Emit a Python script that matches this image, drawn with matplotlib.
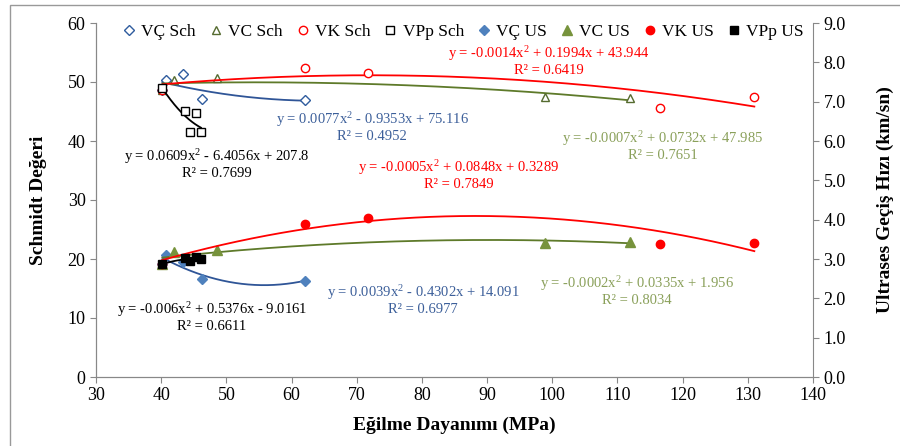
import matplotlib
matplotlib.use('Agg')
import matplotlib.pyplot as plt
import numpy as np
from matplotlib.patches import Rectangle

# Eğilme dayanımı (MPa) ve ölçülen değerler
x_vc_sch = [40.2, 40.7, 43.4, 46.3, 62.0]
y_vc_sch = [48.7, 50.3, 51.3, 47.2, 46.9]
x_vcc_sch = [40.2, 41.9, 48.5, 98.9, 111.9]
y_vcc_sch = [48.7, 50.3, 50.7, 47.5, 47.3]
x_vk_sch = [40.2, 62.0, 71.8, 116.5, 131.0]
y_vk_sch = [48.7, 52.4, 51.5, 45.6, 47.5]
x_vpp_sch = [40.2, 43.6, 44.4, 45.3, 46.1]
y_vpp_sch = [48.9, 45.1, 41.5, 44.7, 41.6]

y_vc_us = [2.87, 3.10, 2.92, 2.49, 2.45]
y_vcc_us = [2.87, 3.19, 3.23, 3.41, 3.44]
y_vk_us = [2.87, 3.89, 4.05, 3.38, 3.41]
y_vpp_us = [2.87, 3.02, 2.95, 3.04, 3.00]

labels = ['VÇ Sch', 'VC Sch', 'VK Sch', 'VPp Sch', 'VÇ US', 'VC US', 'VK US', 'VPp US']

eq_sch = [r'y = 0.0077x$^{2}$ - 0.9353x + 75.116' + '\nR² = 0.4952',
          r'y = -0.0007x$^{2}$ + 0.0732x + 47.985' + '\nR² = 0.7651',
          r'y = -0.0014x$^{2}$ + 0.1994x + 43.944' + '\nR² = 0.6419',
          r'y = 0.0609x$^{2}$ - 6.4056x + 207.8' + '\nR² = 0.7699']
eq_us = [r'y = 0.0039x$^{2}$ - 0.4302x + 14.091' + '\nR² = 0.6977',
         r'y = -0.0002x$^{2}$ + 0.0335x + 1.956' + '\nR² = 0.8034',
         r'y = -0.0005x$^{2}$ + 0.0848x + 0.3289' + '\nR² = 0.7849',
         r'y = -0.006x$^{2}$ + 0.5376x - 9.0161' + '\nR² = 0.6611']

plt.rcParams['font.family'] = 'Liberation Serif'
plt.rcParams['mathtext.fontset'] = 'custom'
plt.rcParams['mathtext.rm'] = 'Liberation Serif'
plt.rcParams['mathtext.it'] = 'Liberation Serif:italic'

fig = plt.figure(figsize=(9, 4.46), dpi=100)
ax = fig.add_axes([96/900, 1-377/446, 717/900, 354/446])
ax2 = ax.twinx()

def trend(a, x, y, color):
    x = np.array(x)
    c = np.polyfit(x, y, 2)
    xs = np.linspace(x.min(), x.max(), 200)
    a.plot(xs, np.polyval(c, xs), '-', color=color, lw=1.3)

blue_line = '#2F5597'
green_line = '#5E7A2A'
xs_all = [x_vc_sch, x_vcc_sch, x_vk_sch, x_vpp_sch]
ys_sch = [y_vc_sch, y_vcc_sch, y_vk_sch, y_vpp_sch]
ys_us = [y_vc_us, y_vcc_us, y_vk_us, y_vpp_us]
line_cols = [blue_line, green_line, '#FF0000', 'black']
mk = ['D', '^', 'o', 's']
edge_cols = ['#2F5C9E', '#556B2F', '#FF0000', 'black']
fill_cols = ['#4F81BD', '#77933C', '#FF0000', 'black']
ms_open = [5, 5.5, 6, 6]
ms_fill = [5, 7, 6, 6]
eq_cols = ['#3C5F9A', '#8AA05A', '#FF0000', 'black']

handles = []
for i in range(4):
    trend(ax, xs_all[i], ys_sch[i], line_cols[i])
    h, = ax.plot(xs_all[i], ys_sch[i], ls='none', marker=mk[i], ms=ms_open[i],
                 mfc='white', mec=edge_cols[i], mew=1.0, label=labels[i])
    handles.append(h)
for i in range(4):
    trend(ax2, xs_all[i], ys_us[i], line_cols[i])
    h, = ax2.plot(xs_all[i], ys_us[i], ls='none', marker=mk[i], ms=ms_fill[i],
                  mfc=fill_cols[i], mec=fill_cols[i], label=labels[4+i])
    handles.append(h)

# denklem etiketleri (sol eksen koordinatlarında)
pos_sch = [(72.4, 42.5), (117.0, 39.3), (99.5, 53.6), (48.5, 36.1)]
pos_us = [(80.2, 13.2), (113.0, 14.7), (85.7, 34.3), (47.8, 10.2)]
for i in range(4):
    ax.text(pos_sch[i][0], pos_sch[i][1], eq_sch[i], color=eq_cols[i], fontsize=10.5,
            ha='center', va='center', multialignment='center', linespacing=1.1, zorder=5)
    ax.text(pos_us[i][0], pos_us[i][1], eq_us[i], color=eq_cols[i], fontsize=10.5,
            ha='center', va='center', multialignment='center', linespacing=1.1, zorder=5)

ax.set_xlim(30, 140)
ax.set_ylim(0, 60)
ax2.set_ylim(0, 9)
ax.set_xticks(range(30, 141, 10))
ax.set_yticks(range(0, 61, 10))
ax2.set_yticks(np.arange(0, 9.1, 1))
ax2.set_yticklabels(['%.1f' % v for v in np.arange(0, 9.1, 1)])

for a in (ax, ax2):
    a.spines['top'].set_visible(False)
    for s in ('left', 'right', 'bottom'):
        a.spines[s].set_color('#888888')
    a.tick_params(colors='#888888', labelcolor='black', labelsize=13, length=4, direction='out')
ax.spines['right'].set_visible(False)

ax.set_xlabel('Eğilme Dayanımı (MPa)', fontsize=14, fontweight='bold', labelpad=9)
ax.set_ylabel('Schmidt Değeri', fontsize=14, fontweight='bold', labelpad=15)
ax2.set_ylabel('Ultrases Geçiş Hızı (km/sn)', fontsize=14, fontweight='bold', labelpad=22)

leg = ax2.legend(handles=handles, ncol=8, loc='center', bbox_to_anchor=(0.513, 0.975),
                 frameon=False, fontsize=12.5, handlelength=0.6, handletextpad=0.4,
                 columnspacing=0.85, borderaxespad=0)

fig.patches.append(Rectangle((10/900, -0.1), 1.1, 1-5/446+0.1, transform=fig.transFigure,
                             fill=False, ec='#999999', lw=1))

fig.savefig('out.png', dpi=100)
